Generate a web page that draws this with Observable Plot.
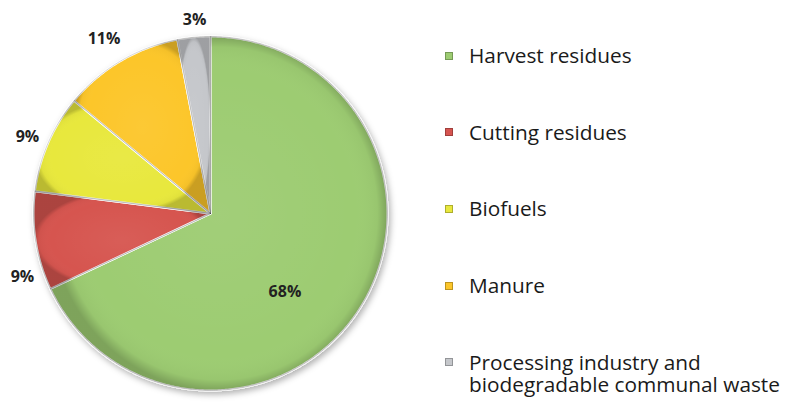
<!DOCTYPE html>
<html><head><meta charset="utf-8">
<script src="https://cdn.jsdelivr.net/npm/d3@7"></script>
<script src="https://cdn.jsdelivr.net/npm/@observablehq/plot@0.6"></script>
<style>
body{margin:0;background:#fff;}
#wrap{position:relative;width:796px;height:402px;font-family:"Open Sans",Lato,sans-serif;}
#wrap svg{position:absolute;left:0;top:0;}
.item{position:absolute;left:445px;display:flex;align-items:flex-start;font-size:20.8px;color:#1a1a1a;line-height:22px;white-space:nowrap;}
.sw{width:8px;height:8px;margin-top:7.5px;margin-right:16px;box-sizing:border-box;border:1px solid rgba(0,0,0,0.25);flex:none;}
</style></head>
<body><div id="wrap"></div>
<script>
// ---- data ----
const categories = ["Harvest residues","Cutting residues","Biofuels","Manure","Processing industry and biodegradable communal waste"];
const legendLines = [["Harvest residues"],["Cutting residues"],["Biofuels"],["Manure"],["Processing industry and","biodegradable communal waste"]];
const shares = [68, 9, 9, 11, 3];
const pctLabels = ["68%","9%","9%","11%","3%"];
const colors = ["#9dcc72","#d65450","#e8e83e","#fcc62a","#c5c7cb"];

// ---- layout (label placement in pie-radius units / degrees) ----
const labelRadius = [0.61, 1.12, 1.12, 1.155, 1.095];
const labelAngleNudge = [14, -9.5, -0.8, -0.8, 0.7];

const total = d3.sum(shares);
let acc = 0;
const slices = shares.map((v, i) => {
  const a0 = acc / total * 2 * Math.PI; acc += v;
  const a1 = acc / total * 2 * Math.PI;
  return {i, cat: categories[i], label: pctLabels[i], a0, a1};
});
function ring(a0, a1, center = true) {
  const pts = center ? [[0, 0]] : [];
  const n = Math.max(2, Math.ceil((a1 - a0) / 0.01));
  for (let k = 0; k <= n; k++) { const a = a0 + (a1 - a0) * k / n; pts.push([Math.sin(a), Math.cos(a)]); }
  pts.push(pts[0]);
  return pts;
}
const features = slices.map(s => ({type: "Feature", properties: s, geometry: {type: "Polygon", coordinates: [ring(s.a0, s.a1)]}}));
const disc = {type: "Feature", properties: {}, geometry: {type: "Polygon", coordinates: [ring(0, 2 * Math.PI, false)]}};

const labelPos = slices.map(s => {
  const a = (s.a0 + s.a1) / 2 + labelAngleNudge[s.i] * Math.PI / 180;
  const r = labelRadius[s.i];
  return {...s, x: Math.sin(a) * r, y: Math.cos(a) * r};
});

const defs = () => {
  const d = d3.create("svg:defs");
  const g = d.append("radialGradient").attr("id", "shade").attr("cx", 0.5).attr("cy", 0.5).attr("r", 0.5);
  [[0, "#fff", 0.05], [0.8, "#fff", 0], [0.94, "#000", 0.03], [1, "#000", 0.2]].forEach(([o, c, op]) =>
    g.append("stop").attr("offset", o).attr("stop-color", c).attr("stop-opacity", op));
  const f = d.append("filter").attr("id", "shadow").attr("x", "-10%").attr("y", "-10%").attr("width", "130%").attr("height", "130%");
  f.append("feDropShadow").attr("dx", 2).attr("dy", 3).attr("stdDeviation", 3).attr("flood-color", "#000").attr("flood-opacity", 0.3);
  return d.node();
};

const chart = Plot.plot({
  width: 796, height: 402,
  marginLeft: 33, marginRight: 409, marginTop: 36, marginBottom: 12,
  projection: {type: "reflect-y", domain: disc, clip: false},
  color: {domain: categories, range: colors},
  style: {fontFamily: "'Open Sans', Lato, sans-serif", background: "transparent"},
  marks: [
    defs,
    Plot.geo(features, {fill: d => d.properties.cat, stroke: "#fff", strokeWidth: 2}),
    Plot.geo(features, {fill: "url(#shade)", stroke: "rgba(0,0,0,0.2)", strokeWidth: 0.8}),
    Plot.text(labelPos, {x: "x", y: "y", text: "label", fontSize: 16, fontWeight: "bold", fill: "#222"})
  ]
});
d3.select(chart).select('g[aria-label="geo"]').attr("filter", "url(#shadow)");
const wrap = document.getElementById("wrap");
wrap.appendChild(chart);

legendLines.forEach((lines, i) => {
  const it = document.createElement("div");
  it.className = "item";
  it.style.top = (44 + i * 76.7) + "px";
  const sw = document.createElement("div");
  sw.className = "sw";
  sw.style.background = colors[i];
  const tx = document.createElement("div");
  tx.innerHTML = lines.join("<br>");
  it.appendChild(sw); it.appendChild(tx);
  wrap.appendChild(it);
});
</script></body></html>
